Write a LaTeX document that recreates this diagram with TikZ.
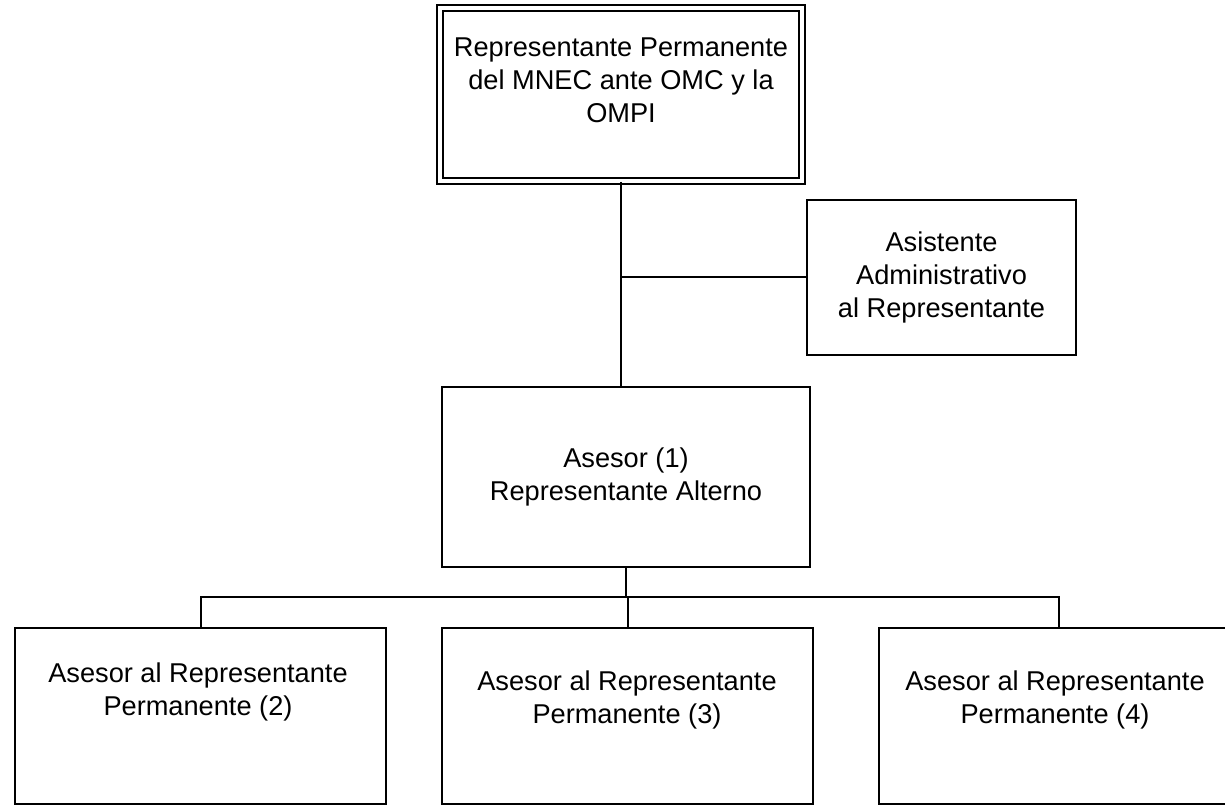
\documentclass[tikz,border=0pt]{standalone}
\usepackage{fontspec}
\setmainfont{Liberation Sans}
\begin{document}
\begin{tikzpicture}[x=0.5pt,y=-0.5pt,
  box/.style={draw, rectangle, line width=1pt, inner sep=0pt},
  txt/.style={align=center, inner sep=0pt, font=\fontsize{13.6}{16.5}\selectfont},
  link/.style={draw, line width=1pt}]
\useasboundingbox (0,0) rectangle (1225,806);
\clip (0,0) rectangle (1225,806);
% boxes
\node[box, double, double distance=2pt, minimum width=181pt, minimum height=86.5pt] (top) at (621,94.5) {};
\node[txt, anchor=north] (topt) at (621,37) {Representante Permanente\\del MNEC ante OMC y la\\OMPI};
\node[box, txt, minimum width=134.5pt, minimum height=77.5pt] (asis) at (941.5,277.5) {Asistente\\Administrativo\\al Representante};
\node[box, txt, minimum width=184pt, minimum height=90pt] (a1) at (626,477) {Asesor (1)\\Representante Alterno};
\node[box, minimum width=185.5pt, minimum height=88pt] (b2) at (200.5,716) {};
\node[box, minimum width=185.5pt, minimum height=88pt] (b3) at (627.5,716) {};
\node[box, minimum width=180pt, minimum height=88pt] (b4) at (1059,716) {};
\node[txt, anchor=north] (b2t) at (198,662) {Asesor al Representante\\Permanente (2)};
\node[txt, anchor=north] (b3t) at (627,670) {Asesor al Representante\\Permanente (3)};
\node[txt, anchor=north] (b4t) at (1055,670) {Asesor al Representante\\Permanente (4)};
% connectors
\coordinate (busy) at (0,597);
\path[link] (top.south) -- (top.south |- a1.north);
\path[link] (asis.west) -- (asis.west -| top.south);
\path[link] (a1.south) -- (a1.south |- busy);
\path[link] (b2.north) -- (b2.north |- busy) -- (b4.north |- busy) -- (b4.north);
\path[link] (b3.north) -- (b3.north |- busy);
\end{tikzpicture}
\end{document}
